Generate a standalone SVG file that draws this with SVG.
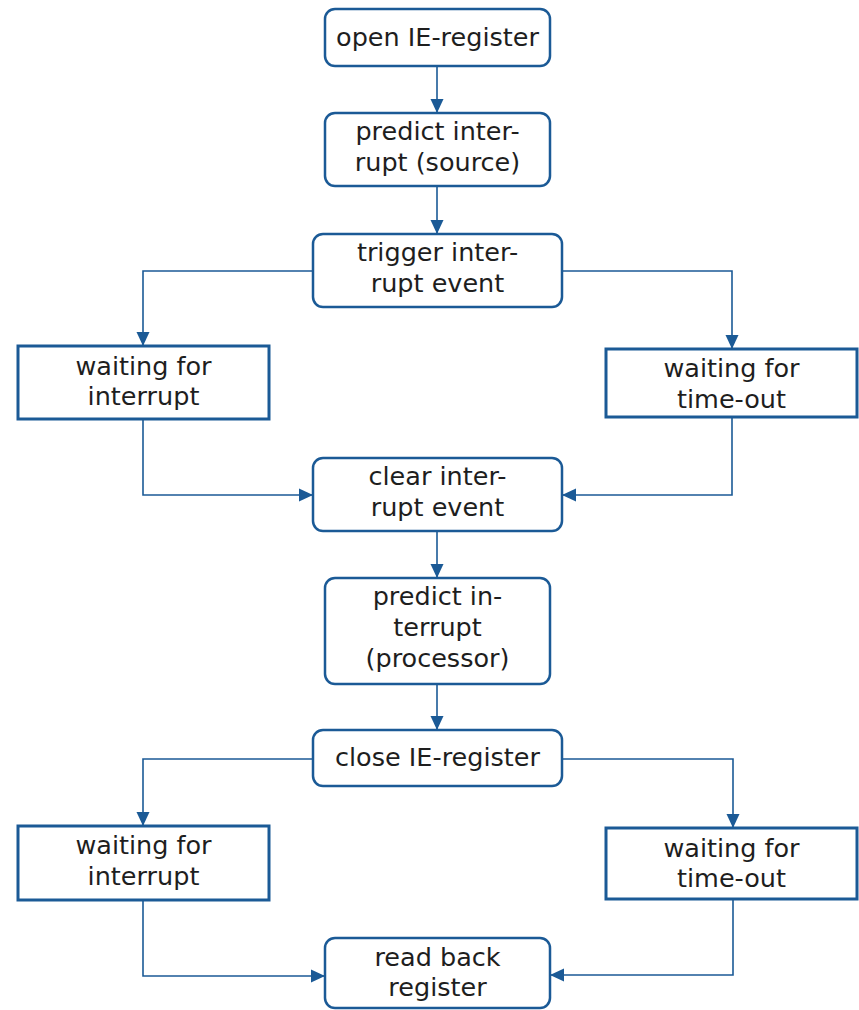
<svg xmlns="http://www.w3.org/2000/svg" width="859" height="1010" viewBox="0 0 859 1010">
<style>
.rr{fill:#fff;stroke:#1b5a96;stroke-width:2.5}
.sq{fill:#fff;stroke:#1b5a96;stroke-width:3}
.t{font-family:"DejaVu Sans",sans-serif;font-size:25.5px;fill:#1e1e1e;text-anchor:middle}
.c{fill:none;stroke:#1b5a96;stroke-width:1.6}
</style>
<defs>
<marker id="ah" markerUnits="userSpaceOnUse" markerWidth="15" markerHeight="15" viewBox="0 0 15 15" refX="14" refY="7.5" orient="auto">
<path d="M0,1 L14,7.5 L0,14 Z" fill="#1b5a96"/>
</marker>
</defs>
<rect width="859" height="1010" fill="#fff"/>
<g id="connectors">
<path class="c" d="M437,66 V113" marker-end="url(#ah)"/>
<path class="c" d="M437,186 V234" marker-end="url(#ah)"/>
<path class="c" d="M313,271 H143 V346" marker-end="url(#ah)"/>
<path class="c" d="M562,271 H732 V349" marker-end="url(#ah)"/>
<path class="c" d="M143,419 V495 H313" marker-end="url(#ah)"/>
<path class="c" d="M732,417 V495 H562" marker-end="url(#ah)"/>
<path class="c" d="M437,531 V578" marker-end="url(#ah)"/>
<path class="c" d="M437,684 V730" marker-end="url(#ah)"/>
<path class="c" d="M313,759 H143 V826" marker-end="url(#ah)"/>
<path class="c" d="M562,759 H733 V828" marker-end="url(#ah)"/>
<path class="c" d="M143,900 V976 H325" marker-end="url(#ah)"/>
<path class="c" d="M733,899 V975 H550" marker-end="url(#ah)"/>
</g>
<g id="n1"><rect class="rr" x="325" y="9" width="225" height="57" rx="10"/><text class="t" x="437.5" y="46">open IE-register</text></g>
<g id="n2"><rect class="rr" x="325" y="113" width="225" height="73" rx="10"/><text class="t" x="437.5" y="140">predict inter-</text><text class="t" x="437.5" y="171">rupt (source)</text></g>
<g id="n3"><rect class="rr" x="313" y="234" width="249" height="73" rx="10"/><text class="t" x="437.5" y="261">trigger inter-</text><text class="t" x="437.5" y="292">rupt event</text></g>
<g id="n4"><rect class="sq" x="18" y="346" width="251" height="73"/><text class="t" x="143.5" y="375">waiting for</text><text class="t" x="143.5" y="405">interrupt</text></g>
<g id="n5"><rect class="sq" x="606" y="349" width="251" height="68"/><text class="t" x="731.5" y="377">waiting for</text><text class="t" x="731.5" y="408">time-out</text></g>
<g id="n6"><rect class="rr" x="313" y="458" width="249" height="73" rx="10"/><text class="t" x="437.5" y="485">clear inter-</text><text class="t" x="437.5" y="516">rupt event</text></g>
<g id="n7"><rect class="rr" x="325" y="578" width="225" height="106" rx="10"/><text class="t" x="437.5" y="605">predict in-</text><text class="t" x="437.5" y="636">terrupt</text><text class="t" x="437.5" y="667">(processor)</text></g>
<g id="n8"><rect class="rr" x="313" y="730" width="249" height="56" rx="10"/><text class="t" x="437.5" y="766">close IE-register</text></g>
<g id="n9"><rect class="sq" x="18" y="826" width="251" height="74"/><text class="t" x="143.5" y="854">waiting for</text><text class="t" x="143.5" y="885">interrupt</text></g>
<g id="n10"><rect class="sq" x="606" y="828" width="251" height="71"/><text class="t" x="731.5" y="857">waiting for</text><text class="t" x="731.5" y="887">time-out</text></g>
<g id="n11"><rect class="rr" x="325" y="938" width="225" height="70" rx="10"/><text class="t" x="437.5" y="966">read back</text><text class="t" x="437.5" y="996">register</text></g>
</svg>
